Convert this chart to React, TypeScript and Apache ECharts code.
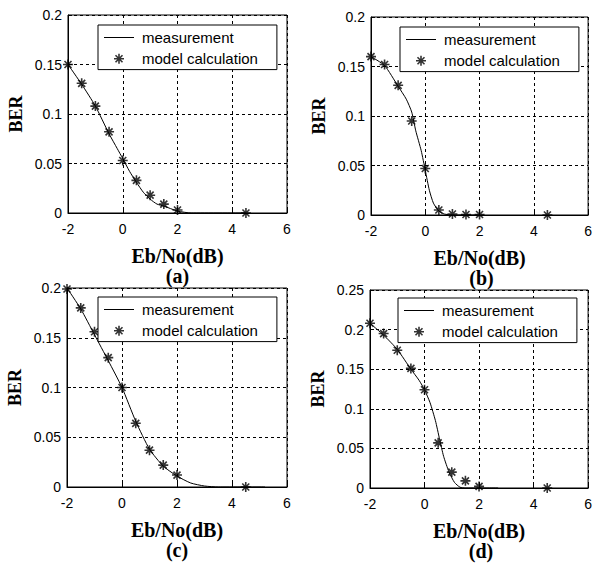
import React, { useEffect, useRef } from "react";
import * as echarts from "echarts";

// ---- data ----
const modelX = [-2, -1.5, -1, -0.5, 0, 0.5, 1, 1.5, 2, 4.5];

const modelA = [0.15, 0.131, 0.108, 0.082, 0.053, 0.033, 0.018, 0.009, 0.003, 0];
const modelB = [0.16, 0.152, 0.131, 0.095, 0.047, 0.005, 0.001, 0.0005, 0.0005, 0];
const modelC = [0.199, 0.18, 0.156, 0.13, 0.1, 0.064, 0.037, 0.022, 0.012, 0];
const modelD = [0.208, 0.195, 0.174, 0.151, 0.124, 0.057, 0.02, 0.009, 0.002, 0];

const measAx = [-2, -1.5, -1, -0.5, -0.2, 0, 0.25, 0.5, 0.75, 1, 1.25, 1.5, 2, 2.5, 4.5];
const measAy = [0.15, 0.13, 0.108, 0.08, 0.065, 0.055, 0.042, 0.031, 0.021, 0.014, 0.009, 0.007, 0.002, 0, 0];

const measBx = [-2, -1.5, -1, -0.7, -0.5, -0.35, -0.15, 0, 0.15, 0.3, 0.5, 0.7, 1, 2];
const measBy = [0.16, 0.151, 0.13, 0.117, 0.104, 0.085, 0.065, 0.045, 0.025, 0.012, 0.004, 0.001, 0, 0];

const measCx = [-2, -1.5, -1, -0.5, 0, 0.5, 1, 1.5, 2, 2.5, 3, 3.5, 5.2];
const measCy = [0.2, 0.179, 0.153, 0.127, 0.1, 0.066, 0.038, 0.021, 0.011, 0.004, 0.001, 0, 0];

const measDx = [-2, -1.5, -1, -0.5, -0.2, 0, 0.2, 0.4, 0.55, 0.7, 0.9, 1.1, 1.3, 1.5, 2.7];
const measDy = [0.208, 0.193, 0.175, 0.15, 0.136, 0.124, 0.108, 0.085, 0.062, 0.04, 0.02, 0.007, 0.001, 0, 0];

const yMaxes = [0.2, 0.2, 0.2, 0.25];
const panelLabels = ["(a)", "(b)", "(c)", "(d)"];
const seriesNames = ["measurement", "model calculation"];
const xTitle = "Eb/No(dB)";
const yTitle = "BER";

// ---- layout ----
const grids = [
  { left: 68, top: 15, width: 219, height: 198 },
  { left: 371, top: 17, width: 221, height: 198 },
  { left: 67, top: 288, width: 220, height: 199 },
  { left: 370, top: 290, width: 222, height: 198 },
];
const legendPos = [
  [98, 25],
  [400, 27],
  [98, 297],
  [398, 298],
];

const STAR = "path://M5,0L5,10M0,5L10,5M1.5,1.5L8.5,8.5M1.5,8.5L8.5,1.5";
const STAR_ICON = "path://M-2,-2M12,12M5,0L5,10M0,5L10,5M1.5,1.5L8.5,8.5M1.5,8.5L8.5,1.5";
const LINE_ICON = "path://M0,0L60,0L60,2L0,2Z";

const SANS = "'Liberation Sans', Arial, sans-serif";
const SERIF = "'Liberation Serif', 'Times New Roman', serif";

export default function App() {
  const ref = useRef<HTMLDivElement>(null);
  useEffect(() => {
    if (!ref.current) return;
    const chart = echarts.init(ref.current, undefined, { renderer: "svg" });
    const meas = [
      [measAx, measAy],
      [measBx, measBy],
      [measCx, measCy],
      [measDx, measDy],
    ];
    const models = [modelA, modelB, modelC, modelD];

    const grid: any[] = [];
    const xAxis: any[] = [];
    const yAxis: any[] = [];
    const series: any[] = [];
    const legend: any[] = [];
    const graphic: any[] = [];

    for (let i = 0; i < 4; i++) {
      const g = grids[i];
      grid.push({ ...g, show: true, borderColor: "#000", borderWidth: 1, containLabel: false });
      xAxis.push({
        type: "value",
        gridIndex: i,
        min: -2,
        max: 6,
        interval: 2,
        axisLine: { show: true, onZero: false, lineStyle: { color: "#000", width: 1 } },
        axisTick: { show: true, inside: true, length: 4, lineStyle: { color: "#000" } },
        axisLabel: { color: "#000", fontFamily: SANS, fontSize: 14, margin: 9 },
        splitLine: { show: true, lineStyle: { color: "#000", type: [3, 3], width: 1 } },
        name: xTitle,
        nameLocation: "middle",
        nameGap: 33,
        nameTextStyle: { color: "#000", fontFamily: SERIF, fontSize: 20, fontWeight: "bold" },
      });
      yAxis.push({
        type: "value",
        gridIndex: i,
        min: 0,
        max: yMaxes[i],
        interval: 0.05,
        axisLine: { show: true, onZero: false, lineStyle: { color: "#000", width: 1 } },
        axisTick: { show: true, inside: true, length: 4, lineStyle: { color: "#000" } },
        axisLabel: { color: "#000", fontFamily: SANS, fontSize: 14, margin: 6 },
        splitLine: { show: true, lineStyle: { color: "#000", type: [3, 3], width: 1 } },
        name: yTitle,
        nameLocation: "middle",
        nameGap: 43,
        nameTextStyle: { color: "#000", fontFamily: SERIF, fontSize: 18, fontWeight: "bold" },
      });
      const [mx, my] = meas[i];
      series.push({
        type: "line",
        name: seriesNames[0],
        xAxisIndex: i,
        yAxisIndex: i,
        data: mx.map((x, k) => [x, my[k]]),
        symbol: "none",
        smooth: 0.2,
        lineStyle: { color: "#000", width: 1 },
        itemStyle: { color: "#000" },
        z: 3,
      });
      series.push({
        type: "scatter",
        name: seriesNames[1],
        xAxisIndex: i,
        yAxisIndex: i,
        data: modelX.map((x, k) => [x, models[i][k]]),
        symbol: STAR,
        symbolSize: 10,
        itemStyle: { color: "#000", borderColor: "#000", borderWidth: 1.6 },
        z: 4,
      });
      legend.push({
        left: legendPos[i][0],
        top: legendPos[i][1],
        orient: "vertical",
        backgroundColor: "#fff",
        borderColor: "#000",
        borderWidth: 1,
        borderRadius: 0,
        padding: [5, 19, 3, 6],
        itemGap: 6,
        itemWidth: 30,
        itemHeight: 14,
        selectedMode: false,
        textStyle: { color: "#000", fontFamily: SANS, fontSize: 15, padding: [0, 0, 0, 3] },
        data: [
          {
            name: seriesNames[0],
            icon: LINE_ICON,
            itemStyle: { color: "#000", borderWidth: 0 },
          },
          {
            name: seriesNames[1],
            icon: STAR_ICON,
            itemStyle: { color: "#000", borderColor: "#000", borderWidth: 1.6 },
          },
        ],
        z: 10,
      });
      graphic.push({
        type: "text",
        x: g.left + g.width / 2,
        y: g.top + g.height + 63,
        style: {
          text: panelLabels[i],
          fill: "#000",
          font: `bold 20px ${SERIF}`,
          textAlign: "center",
          textVerticalAlign: "middle",
        },
      });
    }

    chart.setOption({
      animation: false,
      backgroundColor: "#fff",
      grid,
      xAxis,
      yAxis,
      series,
      legend,
      graphic,
    });
    return () => chart.dispose();
  }, []);
  return (
    <div
      ref={ref}
      style={{ position: "absolute", left: 0, top: 0, width: 595, height: 564, background: "#fff" }}
    />
  );
}
